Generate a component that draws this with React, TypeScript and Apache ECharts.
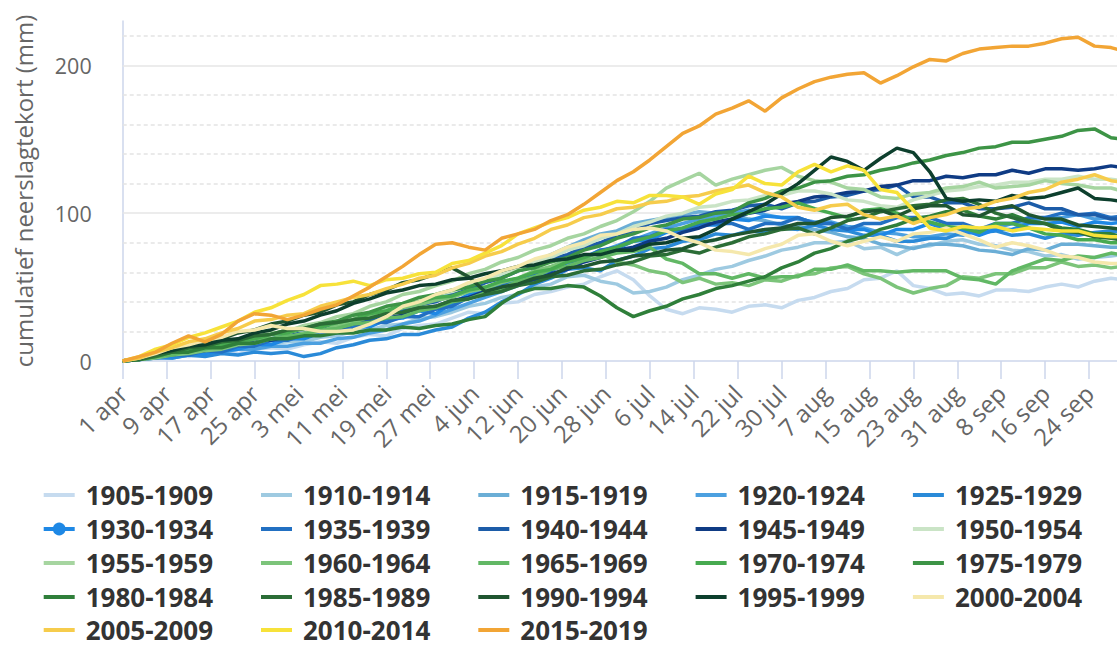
import React, { useEffect, useRef } from "react";
import * as echarts from "echarts";

// ---- categories (1 apr .. 30 sep) ----
const monthNames = ["apr", "mei", "jun", "jul", "aug", "sep"];
const monthLengths = [30, 31, 30, 31, 31, 30];
const dayLabels: string[] = [];
monthNames.forEach((m, i) => {
  for (let d = 1; d <= monthLengths[i]; d++) dayLabels.push(`${d} ${m}`);
});

// sampled day indices (every 3 days + last day)
const sampleDays: number[] = [];
for (let d = 0; d <= 180; d += 3) sampleDays.push(d);
sampleDays.push(182);

// ---- series values (mm) ----
const v1905 = [0,1,2,4,3,4,6,5,8,9, 8,11,13,12,16,18,17,22,24,25, 29,33,32,39,40,45,47,50,52,57, 61,55,44,35,32,36,35,33,37,38, 36,41,43,47,49,55,56,61,51,49, 45,46,44,48,48,47,50,52,50,54, 56,55];
const v1910 = [0,1,3,3,5,5,7,9,9,12, 13,13,16,17,20,21,24,25,29,30, 33,37,39,43,45,50,52,57,58,54, 52,46,47,50,55,58,62,64,68,71, 75,77,80,80,81,76,77,72,77,78, 81,82,79,78,75,74,71,72,69,70, 71,72];
const v1915 = [0,2,2,5,5,7,8,11,12,14, 14,17,18,22,24,28,31,35,39,43, 45,50,53,58,63,67,72,77,82,86, 88,93,95,97,99,101,100,99,96,95, 92,91,89,87,84,83,79,78,76,79, 79,78,75,74,72,76,75,79,79,78, 77,77];
const v1920 = [0,1,3,2,4,6,6,8,8,10, 10,12,12,15,16,19,21,25,27,31, 35,39,43,47,51,56,61,66,70,74, 78,82,86,90,93,96,98,100,102,99, 97,96,94,94,91,90,87,86,84,84, 86,85,89,90,93,94,97,97,99,96, 97,95];
const v1925 = [0,1,2,2,4,3,5,4,6,5, 6,3,5,9,11,14,15,18,18,21, 23,29,33,40,45,52,56,62,63,61, 68,71,76,77,81,82,86,85,88,87, 90,89,92,89,88,85,85,81,81,83, 83,87,87,88,85,86,83,86,85,87, 88,87];
const v1930 = [0,1,3,3,5,5,7,8,11,11, 15,15,19,19,23,23,28,29,34,32, 39,45,47,53,55,61,63,69,70,75, 76,81,82,87,88,92,92,96,95,98, 97,97,93,93,89,89,85,89,89,93, 89,89,85,89,89,93,93,94,91,94, 93,94];
const v1935 = [0,1,2,4,4,7,6,10,10,14, 14,18,18,22,22,26,26,30,30,35, 37,43,45,51,53,59,61,67,69,75, 77,83,84,89,89,93,93,93,89,93, 93,97,93,93,89,93,93,97,97,97, 93,93,89,93,93,97,97,100,99,100, 97,98];
const v1940 = [0,1,3,5,7,8,10,11,14,15, 18,19,22,23,27,28,32,34,38,40, 45,48,53,56,61,64,69,72,77,80, 85,88,93,95,97,98,101,102,105,106, 103,107,108,111,112,115,116,119,111,111, 107,107,103,103,104,107,103,103,99,99, 96,96];
const v1945 = [0,1,3,4,6,7,10,11,14,14, 17,18,21,22,25,26,29,31,35,37, 41,43,47,49,53,55,59,62,67,70, 75,77,81,83,87,90,94,96,100,102, 106,108,111,112,114,115,118,119,122,122, 125,124,126,126,129,127,130,130,129,130, 132,131];
const v1950 = [0,1,3,6,7,10,11,14,15,18, 19,22,23,27,29,33,35,39,41,45, 47,51,54,59,62,67,70,75,78,83, 86,91,94,98,100,104,105,108,109,112, 112,115,115,113,109,108,105,104,109,112, 115,116,118,119,121,121,123,123,125,123, 123,122];
const v1955 = [0,2,4,7,8,11,12,15,16,19, 20,24,26,30,32,37,40,45,47,51, 54,59,62,67,70,75,78,83,86,91, 95,101,108,117,122,127,119,123,126,129, 131,125,122,121,117,116,111,110,113,114, 117,118,121,117,118,119,122,120,119,117, 117,115];
const v1960 = [0,1,2,4,5,7,8,11,12,15, 16,19,20,24,26,30,32,36,38,41, 43,47,49,53,56,61,64,68,70,73, 67,65,61,59,53,56,52,53,51,55, 54,58,59,63,64,59,56,50,46,49, 51,57,56,59,59,63,63,67,64,65, 63,64];
const v1965 = [0,1,3,4,7,8,11,12,15,15, 17,18,21,22,25,26,29,30,34,36, 40,42,46,49,54,57,62,64,68,70, 73,74,77,69,66,59,59,56,59,56, 57,57,62,62,65,61,61,60,61,61, 61,56,55,52,61,65,69,68,71,70, 73,72];
const v1970 = [0,2,3,6,7,10,11,14,15,18, 19,22,23,26,28,32,34,38,40,43, 44,48,50,54,56,60,62,67,70,74, 77,81,84,88,90,94,96,99,100,103, 104,107,103,100,97,102,103,100,95,94, 91,90,87,93,93,90,86,85,82,82, 80,80];
const v1975 = [0,2,5,6,9,10,13,14,17,18, 21,22,25,27,31,33,37,39,43,45, 48,50,54,56,61,63,67,70,75,78, 83,86,90,92,96,97,100,101,107,110, 115,117,121,122,125,126,129,131,134,136, 139,141,144,145,148,148,150,152,156,157, 151,150];
const v1980 = [0,1,3,6,6,9,9,12,12,15, 15,17,17,19,19,21,21,23,22,24, 25,28,30,39,46,49,49,51,50,44, 36,30,34,37,42,45,49,51,54,57, 63,67,73,76,81,84,89,92,96,98, 101,102,98,96,99,95,93,90,89,86, 86,84];
const v1985 = [0,1,4,6,9,10,13,14,17,18, 21,22,25,26,28,29,32,33,36,37, 41,42,45,47,51,53,57,58,61,62, 65,67,71,72,75,73,77,80,84,86, 89,90,86,90,95,97,101,103,105,106, 109,110,106,100,97,94,93,88,87,84, 83,82];
const v1990 = [0,2,5,9,11,14,15,19,21,25, 27,31,33,38,40,45,48,53,55,59, 63,57,47,50,52,56,58,63,64,67, 68,71,72,75,76,80,82,85,87,89, 90,93,93,97,98,101,102,98,103,105, 105,99,98,103,105,99,96,96,92,91, 90,89];
const v1995 = [0,2,5,7,10,11,14,15,19,21, 25,27,31,34,39,42,46,48,51,52, 55,56,59,61,64,65,68,69,72,72, 75,75,79,80,83,84,89,96,101,106, 113,120,129,138,135,129,137,144,141,128, 110,108,109,108,112,110,111,114,117,110, 109,108];
const v2000 = [0,2,5,9,11,14,16,20,21,24, 22,22,20,20,21,25,30,37,40,45, 48,53,56,61,64,69,72,77,80,85, 86,89,90,88,83,80,75,74,72,76, 79,85,86,81,78,81,84,81,86,87, 90,86,82,77,80,78,75,71,70,67, 66,66];
const v2005 = [0,2,6,9,13,15,19,22,27,28, 31,32,37,40,43,45,49,52,56,58, 63,66,71,74,79,83,89,92,97,99, 103,104,107,108,111,112,115,117,119,114, 111,104,102,105,106,99,96,98,93,97, 99,103,104,108,110,114,116,121,123,126, 122,121];
const v2010 = [0,3,8,11,16,19,23,27,33,36, 41,45,51,52,54,51,55,56,59,60, 66,68,73,78,86,90,94,97,102,104, 108,107,112,112,111,106,113,116,125,120, 119,128,133,128,132,129,116,114,102,90, 88,91,90,91,88,90,89,88,88,85, 84,84];
const v2015 = [0,3,6,12,17,13,18,27,32,31, 28,31,35,38,44,50,57,64,72,79, 80,77,75,83,86,89,95,99,106,114, 122,128,136,145,154,159,167,171,176,169, 178,184,189,192,194,195,188,193,199,204, 203,208,211,212,213,213,215,218,219,213, 212,210];

const seriesNames = [
  "1905-1909","1910-1914","1915-1919","1920-1924","1925-1929",
  "1930-1934","1935-1939","1940-1944","1945-1949","1950-1954",
  "1955-1959","1960-1964","1965-1969","1970-1974","1975-1979",
  "1980-1984","1985-1989","1990-1994","1995-1999","2000-2004",
  "2005-2009","2010-2014","2015-2019",
];
const seriesValues = [
  v1905, v1910, v1915, v1920, v1925, v1930, v1935, v1940, v1945, v1950,
  v1955, v1960, v1965, v1970, v1975, v1980, v1985, v1990, v1995, v2000,
  v2005, v2010, v2015,
];
const seriesColors = [
  "#c6dbef","#9ecae1","#6baed6","#4ca0e0","#2a8ad8",
  "#1e88e5","#2270c2","#1c5ca8","#0f3b84","#cae4c6",
  "#a6d5a0","#7cc47a","#62b865","#47aa50","#3d9446",
  "#2f7f3a","#2b6d36","#1f5530","#0d3f2d","#f5e8ac",
  "#f6cc4c","#f7e23a","#f2a535",
];
const markerSeries = "1930-1934";

const yMajor = [100, 200];
const yMinor = [20, 40, 60, 80, 120, 140, 160, 180, 220];

const legendRows = [
  ["1905-1909","1910-1914","1915-1919","1920-1924","1925-1929"],
  ["1930-1934","1935-1939","1940-1944","1945-1949","1950-1954"],
  ["1955-1959","1960-1964","1965-1969","1970-1974","1975-1979"],
  ["1980-1984","1985-1989","1990-1994","1995-1999","2000-2004"],
  ["2005-2009","2010-2014","2015-2019"],
];
const legendRowCenters = [495, 529, 563, 597, 630];

const FONT = "'Open Sans', 'DejaVu Sans', sans-serif";

export default function App() {
  const ref = useRef<HTMLDivElement>(null);
  useEffect(() => {
    if (!ref.current) return;
    const chart = echarts.init(ref.current, undefined, { renderer: "svg" });

    const series: any[] = seriesNames.map((name, i) => {
      const s: any = {
        name,
        type: "line",
        data: seriesValues[i].map((v, k) => [sampleDays[k], v]),
        symbol: name === markerSeries ? "circle" : "none",
        symbolSize: 13,
        showSymbol: false,
        lineStyle: { width: 3.5, color: seriesColors[i] },
        itemStyle: { color: seriesColors[i] },
        color: seriesColors[i],
        emphasis: { disabled: true },
        z: 2 + i / 100,
      };
      if (i === 0) {
        s.markLine = {
          silent: true,
          symbol: ["none", "none"],
          label: { show: false },
          z: 1,
          data: [
            ...yMinor.map((y) => ({
              yAxis: y,
              lineStyle: { color: "#e3e3e3", type: [4, 3], width: 1.5 },
            })),
            ...yMajor.map((y) => ({
              yAxis: y,
              lineStyle: { color: "#e6e6e6", type: "solid", width: 1.5 },
            })),
          ],
        };
      }
      return s;
    });

    chart.setOption({
      animation: false,
      grid: {
        left: 122.7,
        right: -5,
        top: 21,
        bottom: 287,
        containLabel: false,
        outerBoundsMode: "none",
      },
      legend: legendRows.map((row, r) => ({
        data: row.map((name) =>
          name === markerSeries
            ? { name }
            : { name, itemStyle: { opacity: 0 } }
        ),
        orient: "horizontal",
        left: 41.7,
        top: legendRowCenters[r] - 13,
        width: 1100,
        padding: 0,
        itemGap: 9.3,
        itemWidth: 31,
        itemHeight: 16,
        selectedMode: false,
        lineStyle: { width: 4 },
        formatter: (name: string) => `{s|}${name}`,
        textStyle: {
          fontFamily: FONT,
          fontSize: 26,
          fontWeight: "bold",
          color: "#333333",
          lineHeight: 26,
          width: 170,
          overflow: "none",
          rich: { s: { width: 6 } },
        },
      })),
      xAxis: {
        type: "category",
        data: dayLabels,
        boundaryGap: false,
        axisLine: { show: true, lineStyle: { color: "#ccd6eb", width: 1.5 } },
        axisTick: {
          show: true,
          interval: 7,
          length: 18,
          lineStyle: { color: "#ccd6eb", width: 1.5 },
        },
        axisLabel: {
          interval: 7,
          rotate: 45,
          margin: 28,
          fontFamily: FONT,
          fontSize: 24,
          color: "#666666",
        },
        splitLine: { show: false },
      },
      yAxis: {
        type: "value",
        min: 0,
        max: 230,
        interval: 100,
        name: "cumulatief neerslagtekort (mm)",
        nameLocation: "middle",
        nameGap: 87,
        nameTextStyle: { fontFamily: FONT, fontSize: 24, color: "#666666" },
        axisLine: { show: true, lineStyle: { color: "#ccd6eb", width: 1.5 } },
        axisTick: { show: false },
        axisLabel: {
          showMaxLabel: false,
          margin: 31,
          fontFamily: FONT,
          fontSize: 21.5,
          color: "#666666",
        },
        splitLine: { show: false },
      },
      series,
    });
    return () => chart.dispose();
  }, []);

  return (
    <div
      ref={ref}
      style={{ position: "fixed", left: 0, top: 0, width: 1117, height: 648, background: "#fff" }}
    />
  );
}
